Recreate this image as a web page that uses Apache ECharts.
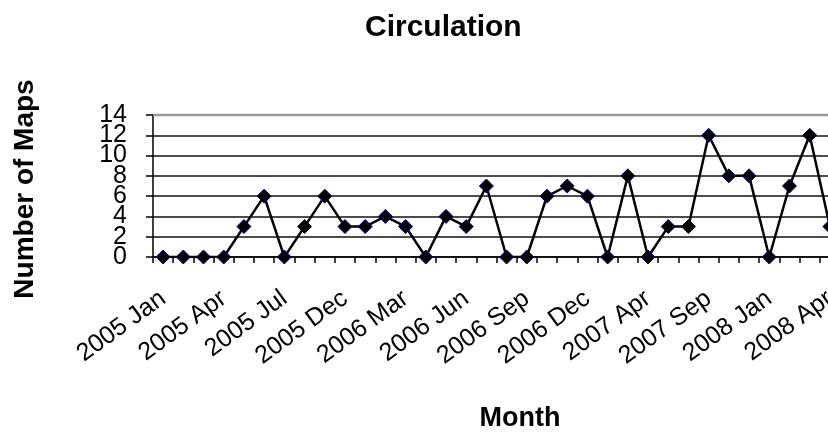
<!DOCTYPE html>
<html>
<head>
<meta charset="utf-8">
<script src="https://cdn.jsdelivr.net/npm/echarts@6/dist/echarts.min.js"></script>
<style>
  html, body { margin: 0; padding: 0; background: #fff; overflow: hidden; }
  /* the original sheet is cropped on the right, so the canvas runs past the window */
  #chart { width: 860px; height: 433px; }
</style>
</head>
<body>
<div id="chart"></div>
<script>
// months in the sheet (only every third one is labelled on the axis)
var months = [
  '2005 Jan', '2005 Feb', '2005 Mar', '2005 Apr', '2005 May', '2005 Jun',
  '2005 Jul', '2005 Aug', '2005 Oct', '2005 Dec', '2006 Jan', '2006 Feb',
  '2006 Mar', '2006 Apr', '2006 May', '2006 Jun', '2006 Jul', '2006 Aug',
  '2006 Sep', '2006 Oct', '2006 Nov', '2006 Dec', '2007 Jan', '2007 Mar',
  '2007 Apr', '2007 Jun', '2007 Aug', '2007 Sep', '2007 Nov', '2007 Dec',
  '2008 Jan', '2008 Feb', '2008 Mar', '2008 Apr'
];
var maps = [
  0, 0, 0, 0, 3, 6, 0, 3, 6, 3, 3, 4,
  3, 0, 4, 3, 7, 0, 0, 6, 7, 6, 0, 8,
  0, 3, 3, 12, 8, 8, 0, 7, 12, 3
];
var yMin = 0, yMax = 14, yStep = 2;
// echarts drops the label next to min/max when they collide,
// so those two go on a second, bare axis
var yLabelsSecond = [2, 12];

var font = '"Liberation Sans", Arial, sans-serif';

function yLabel(onSecond) {
  return {
    margin: 26, fontFamily: font, fontSize: 25, color: '#000',
    showMinLabel: true, showMaxLabel: true, hideOverlap: false,
    formatter: function (v) {
      var isSecond = yLabelsSecond.indexOf(v) >= 0;
      return isSecond === onSecond ? String(v) : '';
    }
  };
}

var chart = echarts.init(document.getElementById('chart'));
chart.setOption({
  animation: false,
  backgroundColor: '#fff',
  title: {
    text: 'Circulation',
    left: 360,
    top: 8,
    textStyle: { fontFamily: font, fontSize: 30, fontWeight: 'bold', color: '#000' }
  },
  grid: { left: 153, top: 115, width: 687, height: 142, containLabel: false },
  xAxis: {
    type: 'category',
    data: months,
    boundaryGap: true,
    axisLine: { lineStyle: { color: '#000', width: 1.5 } },
    axisTick: { show: true, interval: 0, length: 6, lineStyle: { color: '#000', width: 1.5 } },
    axisLabel: {
      interval: 2,
      rotate: 36,
      margin: 39,
      fontFamily: font,
      fontSize: 25,
      color: '#000'
    },
    splitLine: { show: false }
  },
  yAxis: [
    {
      type: 'value',
      position: 'left',
      min: yMin,
      max: yMax,
      interval: yStep,
      axisLine: { show: true, lineStyle: { color: '#000', width: 1.5 } },
      axisTick: { show: true, length: 7, lineStyle: { color: '#000', width: 1.5 } },
      axisLabel: yLabel(false),
      splitLine: { show: true, lineStyle: { color: '#111', width: 1.5 } }
    },
    {
      type: 'value',
      position: 'left',
      offset: 0,
      min: yMin,
      max: yMax,
      interval: yStep,
      axisLine: { show: false },
      axisTick: { show: false },
      axisLabel: yLabel(true),
      splitLine: { show: false }
    }
  ],
  graphic: [
    {
      type: 'text',
      x: 520, y: 419,
      style: {
        text: 'Month', font: 'bold 27px ' + font, fill: '#000',
        textAlign: 'center', textVerticalAlign: 'middle'
      }
    },
    {
      type: 'text',
      x: 25, y: 189,
      rotation: Math.PI / 2,
      style: {
        text: 'Number of Maps', font: 'bold 28px ' + font, fill: '#000',
        textAlign: 'center', textVerticalAlign: 'middle'
      }
    },
    {
      type: 'line',
      shape: { x1: 153, y1: 115, x2: 860, y2: 115 },
      style: { stroke: '#999', lineWidth: 2.5 },
      z: 5
    }
  ],
  series: [{
    type: 'line',
    data: maps,
    showAllSymbol: true,
    symbol: 'diamond',
    symbolSize: 14,
    lineStyle: { color: '#000', width: 2.5 },
    itemStyle: { color: '#000', borderColor: '#000080', borderWidth: 1 },
    z: 10
  }]
});
</script>
</body>
</html>
